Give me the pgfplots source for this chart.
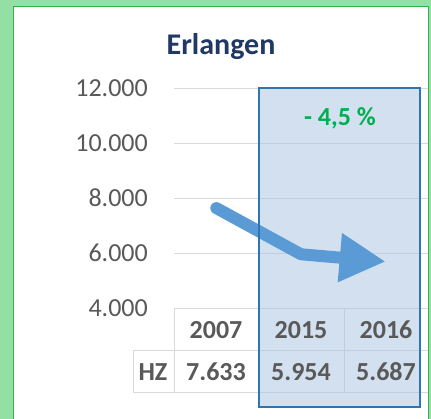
\documentclass[border=0pt]{standalone}
\usepackage{fontspec}
\setmainfont{Carlito}
\usepackage{pgfplots}
\pgfplotsset{compat=1.18}
\usetikzlibrary{arrows.meta}

\definecolor{bggreen}{HTML}{94DFA3}
\definecolor{framegreen}{HTML}{2DB34A}
\definecolor{gridgray}{HTML}{D9D9D9}
\definecolor{txtgray}{HTML}{595959}
\definecolor{titleblue}{HTML}{1F3864}
\definecolor{lineblue}{HTML}{5B9BD5}
\definecolor{boxfill}{HTML}{A7C3E1}
\definecolor{boxedge}{HTML}{2E75B6}
\definecolor{pctgreen}{HTML}{00B050}

\newcommand{\chartfont}{\fontsize{26bp}{30bp}\selectfont}

\begin{document}
\begin{tikzpicture}[x=1bp,y=1bp]
% page and frame
\path[use as bounding box, clip] (0,0) rectangle (431,419);
\fill[bggreen] (0,0) rectangle (431,419);
\filldraw[fill=white, draw=framegreen, line width=1bp] (13,412) rectangle (428,-5);

% title
\node[font=\fontsize{30bp}{34bp}\selectfont\bfseries, text=titleblue] at (221,372) {Erlangen};

% data table lines
\begin{scope}[gridgray, line width=1bp]
\draw (133,68) -- (428,68);
\draw (133,26) -- (428,26);
\draw (133,68) -- (133,26);
\foreach \x in {174,259,344} \draw (\x,111) -- (\x,26);
\end{scope}

\begin{axis}[
    at={(174bp,111bp)}, anchor=south west,
    scale only axis,
    width=254bp, height=220bp,
    xmin=-0.5, xmax=2.5,
    ymin=4000, ymax=12000,
    ytick={4000,6000,8000,10000,12000},
    scaled y ticks=false,
    xtick=\empty,
    ymajorgrids,
    grid style={color=gridgray, line width=1bp},
    axis line style={draw=none},
    tick style={draw=none},
    /pgf/number format/.cd, fixed, 1000 sep={.}, assume math mode=true,
    /pgfplots/.cd,
    yticklabel style={font=\chartfont, text=txtgray, inner sep=0pt, anchor=east, xshift=-26bp},
    clip=false,
]
% highlight fill (under the trend line, over the grid)
\fill[boxfill, fill opacity=0.5] (axis cs:0.5,12000) rectangle (axis cs:2.405,400);
\addplot[color=lineblue, line width=12bp, line cap=round, line join=round,
  -{Triangle[length=46bp,width=46bp]}]
  coordinates {(0,7633) (1,5954) (2,5687)};
\draw[boxedge, line width=2bp] (axis cs:0.5,12000) rectangle (axis cs:2.405,400);
\end{axis}

% data table text
\begin{scope}[font=\chartfont\bfseries, text=txtgray]
\node at (216,89) {2007};
\node at (301,89) {2015};
\node at (386,89) {2016};
\node at (153,47) {HZ};
\node at (216,47) {7.633};
\node at (301,47) {5.954};
\node at (386,47) {5.687};
\end{scope}

\node[font=\chartfont\bfseries, text=pctgreen] at (340,301) {- 4,5 \%};
\end{tikzpicture}
\end{document}
